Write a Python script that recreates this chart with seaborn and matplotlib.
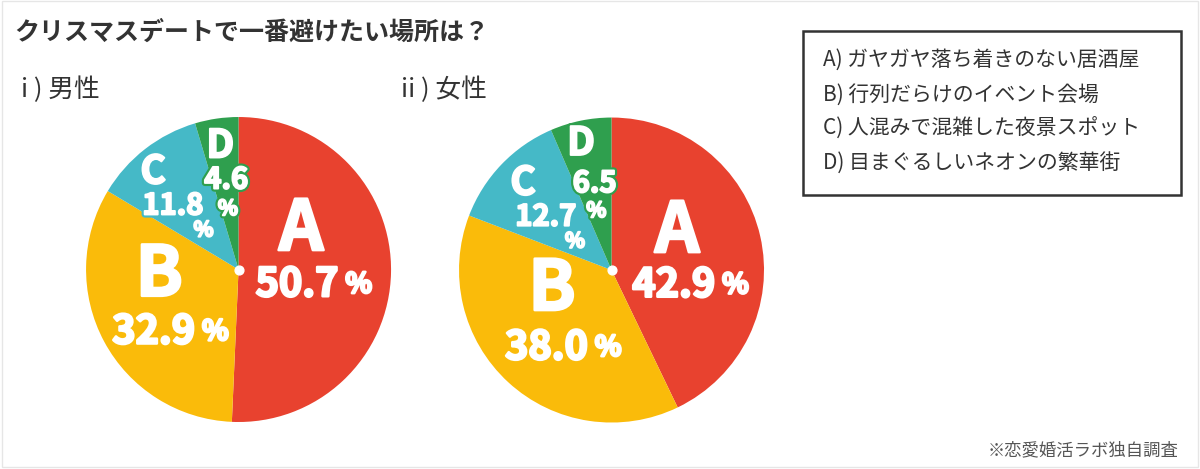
import matplotlib
matplotlib.use("Agg")
import matplotlib.pyplot as plt
import matplotlib.patheffects as pe
from matplotlib.patches import Rectangle
import seaborn as sns

# データ
categories = ["A", "B", "C", "D"]
men_values = [50.7, 32.9, 11.8, 4.6]
women_values = [42.9, 38.0, 12.7, 6.5]
legend_items = [
    "A) ガヤガヤ落ち着きのない居酒屋",
    "B) 行列だらけのイベント会場",
    "C) 人混みで混雑した夜景スポット",
    "D) 目まぐるしいネオンの繁華街",
]
title = "クリスマスデートで一番避けたい場所は？"
subtitles = ["i ) 男性", "ii ) 女性"]
source_note = "※恋愛婚活ラボ独自調査"

sns.set_theme(style="white")
plt.rcParams['font.family'] = ['Noto Sans CJK JP', 'DejaVu Sans']

colors = sns.color_palette(["#E8422F", "#FABB0A", "#45B9C7", "#2F9F4E"])

# ラベル配置（半径単位）
men_layout = {
    "A": dict(letter=(0.41, 0.26), num=(0.655, -0.10), pct=(0.70, -0.10)),
    "B": dict(letter=(-0.52, -0.04), num=(-0.285, -0.41), pct=(-0.24, -0.41)),
    "C": dict(letter=(-0.56, 0.64), num=(-0.43, 0.42), pct=(-0.23, 0.26)),
    "D": dict(letter=(-0.12, 0.81), num=(-0.08, 0.59), pct=(-0.07, 0.40)),
}
women_layout = {
    "A": dict(letter=(0.43, 0.25), num=(0.68, -0.10), pct=(0.725, -0.10)),
    "B": dict(letter=(-0.39, -0.13), num=(-0.155, -0.51), pct=(-0.11, -0.51)),
    "C": dict(letter=(-0.58, 0.57), num=(-0.43, 0.35), pct=(-0.24, 0.19)),
    "D": dict(letter=(-0.20, 0.83), num=(-0.11, 0.57), pct=(-0.10, 0.39)),
}

fig = plt.figure(figsize=(12, 4.69), dpi=100)
fig.patch.set_facecolor("white")

heavy = [pe.Stroke(linewidth=1.8, foreground="white"), pe.Normal()]


def draw_pie(ax, values, layout):
    ax.pie(values, colors=colors, startangle=90, counterclock=False,
           radius=1, wedgeprops=dict(linewidth=0))
    ax.set_xlim(-1, 1)
    ax.set_ylim(-1, 1)
    ax.set_aspect("equal")
    ax.axis("off")
    ax.scatter([0], [0], s=40, color="white", zorder=5)
    for i, cat in enumerate(categories):
        lay = layout[cat]
        num_txt = f"{values[i]:.1f}"
        if cat in ("A", "B"):
            ax.text(*lay["letter"], cat, ha="center", va="center", color="white",
                    fontsize=50, fontweight="bold", path_effects=heavy)
            ax.text(*lay["num"], num_txt, ha="right", va="center", color="white",
                    fontsize=28.5, fontweight="bold", path_effects=heavy)
            ax.text(*lay["pct"], "%", ha="left", va="center", color="white",
                    fontsize=20, fontweight="bold", path_effects=heavy)
        else:
            stroke = [pe.Stroke(linewidth=4.5, foreground=colors[i]),
                      pe.Stroke(linewidth=1.4, foreground="white"), pe.Normal()]
            ax.text(*lay["letter"], cat, ha="center", va="center", color="white",
                    fontsize=28, fontweight="bold", path_effects=stroke)
            ax.text(*lay["num"], num_txt, ha="center", va="center", color="white",
                    fontsize=21, fontweight="bold", path_effects=stroke, zorder=6)
            ax.text(*lay["pct"], "%", ha="center", va="center", color="white",
                    fontsize=15, fontweight="bold", path_effects=stroke, zorder=6)


ax_men = fig.add_axes([0.0717, 0.1002, 0.2542, 0.6503])
draw_pie(ax_men, men_values, men_layout)
ax_women = fig.add_axes([0.3825, 0.0991, 0.2542, 0.6503])
draw_pie(ax_women, women_values, women_layout)

# タイトル・見出し
fig.text(0.012, 1 - 33 / 469, title, fontsize=18, fontweight="bold",
         color="#333333", va="center", ha="left")
fig.text(21 / 1200, 1 - 90 / 469, subtitles[0], fontsize=18.5, color="#333333",
         va="center", ha="left")
fig.text(401 / 1200, 1 - 90 / 469, subtitles[1], fontsize=18.5, color="#333333",
         va="center", ha="left")

# 凡例ボックス
fig.patches.append(Rectangle((803 / 1200, 1 - 195 / 469), 378 / 1200, 164 / 469,
                             transform=fig.transFigure, fill=False,
                             edgecolor="#333333", linewidth=1.8))
for y_px, item in zip([60, 95, 129, 164], legend_items):
    fig.text(823 / 1200, 1 - y_px / 469, item, fontsize=15, color="#333333",
             va="center", ha="left")

fig.text(1178 / 1200, 1 - 450 / 469, source_note, fontsize=12.5, color="#555555",
         va="center", ha="right")

# 外枠
fig.patches.append(Rectangle((0.002, 0.004), 0.996, 0.994, transform=fig.transFigure,
                             fill=False, edgecolor="#e6e6e6", linewidth=1))

plt.savefig("out.png", dpi=100)
